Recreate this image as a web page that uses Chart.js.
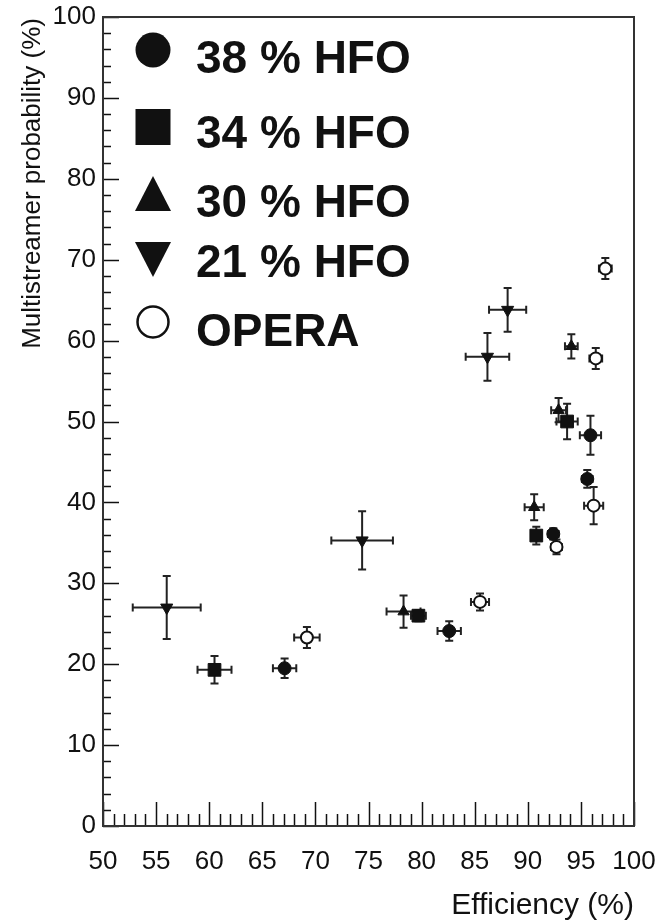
<!DOCTYPE html>
<html>
<head>
<meta charset="utf-8">
<script src="https://cdn.jsdelivr.net/npm/chart.js@4/dist/chart.umd.min.js"></script>
<style>
  html, body { margin: 0; padding: 0; background: #fff; }
  #wrap { width: 662px; height: 923px; }
</style>
</head>
<body>
<div id="wrap"><canvas id="c" width="662" height="923"></canvas></div>
<script>
// Multistreamer probability versus efficiency, with x/y error bars

const hfo38X  = [67.1, 82.6, 92.4, 95.6, 95.9];
const hfo38Y  = [19.5, 24.1, 36.1, 42.9, 48.3];
const hfo38Ex = [1.1, 1.1, 0.5, 0.5, 1.0];
const hfo38Ey = [1.2, 1.2, 0.7, 1.1, 2.4];

const hfo34X  = [60.5, 79.7, 90.8, 93.7];
const hfo34Y  = [19.3, 26.0, 35.9, 50.0];
const hfo34Ex = [1.6, 0.7, 0.5, 1.0];
const hfo34Ey = [1.7, 0.7, 1.1, 2.2];

const hfo30X  = [78.3, 90.6, 92.9, 94.1];
const hfo30Y  = [26.5, 39.4, 51.4, 59.3];
const hfo30Ex = [1.6, 0.9, 0.7, 0.6];
const hfo30Ey = [2.0, 1.6, 1.5, 1.5];

const hfo21X  = [56.0, 74.4, 86.2, 88.1];
const hfo21Y  = [27.0, 35.3, 58.0, 63.8];
const hfo21Ex = [3.2, 2.9, 2.05, 1.75];
const hfo21Ey = [3.9, 3.6, 2.95, 2.7];

const operaX  = [69.2, 85.5, 92.7, 96.2, 96.4, 97.3];
const operaY  = [23.3, 27.7, 34.5, 39.6, 57.8, 68.9];
const operaEx = [1.2, 0.85, 0.5, 0.9, 0.6, 0.6];
const operaEy = [1.3, 1.05, 0.9, 2.3, 1.3, 1.3];

const seriesLabels = ['38 % HFO', '34 % HFO', '30 % HFO', '21 % HFO', 'OPERA'];
const xTickLabels = [50, 55, 60, 65, 70, 75, 80, 85, 90, 95, 100];
const yTickLabels = [0, 10, 20, 30, 40, 50, 60, 70, 80, 90, 100];
const xTitle = 'Efficiency (%)';
const yTitle = 'Multistreamer probability (%)';

function pts(xs, ys, exs, eys) {
  return xs.map((x, i) => ({ x: x, y: ys[i], ex: exs[i], ey: eys[i] }));
}

const INK = '#111';
const FONT = '"Liberation Sans", Arial, Helvetica, sans-serif';

const datasets = [
  { label: seriesLabels[0], data: pts(hfo38X, hfo38Y, hfo38Ex, hfo38Ey),
    pointStyle: 'circle', pointRadius: 6.5, backgroundColor: INK, borderColor: INK, borderWidth: 1 },
  { label: seriesLabels[1], data: pts(hfo34X, hfo34Y, hfo34Ex, hfo34Ey),
    pointStyle: 'rect', pointRadius: 9, backgroundColor: INK, borderColor: INK, borderWidth: 1 },
  { label: seriesLabels[2], data: pts(hfo30X, hfo30Y, hfo30Ex, hfo30Ey),
    pointStyle: 'triangle', pointRadius: 6.5, backgroundColor: INK, borderColor: INK, borderWidth: 1 },
  { label: seriesLabels[3], data: pts(hfo21X, hfo21Y, hfo21Ex, hfo21Ey),
    pointStyle: 'triangle', rotation: 180, pointRadius: 7, backgroundColor: INK, borderColor: INK, borderWidth: 1 },
  { label: seriesLabels[4], data: pts(operaX, operaY, operaEx, operaEy),
    pointStyle: 'circle', pointRadius: 6, backgroundColor: '#fff', borderColor: INK, borderWidth: 2 }
];

// Error bars, frame, tick marks, titles and legend
const rootStyle = {
  id: 'rootStyle',
  beforeDatasetsDraw(chart) {
    const ctx = chart.ctx, xs = chart.scales.x, ys = chart.scales.y;
    ctx.save();
    ctx.strokeStyle = '#222';
    ctx.lineWidth = 2;
    const cap = 4;
    chart.data.datasets.forEach(ds => {
      ds.data.forEach(p => {
        const cx = xs.getPixelForValue(p.x), cy = ys.getPixelForValue(p.y);
        const x0 = xs.getPixelForValue(p.x - p.ex), x1 = xs.getPixelForValue(p.x + p.ex);
        const y0 = ys.getPixelForValue(p.y - p.ey), y1 = ys.getPixelForValue(p.y + p.ey);
        ctx.beginPath();
        ctx.moveTo(x0, cy); ctx.lineTo(x1, cy);
        ctx.moveTo(x0, cy - cap); ctx.lineTo(x0, cy + cap);
        ctx.moveTo(x1, cy - cap); ctx.lineTo(x1, cy + cap);
        ctx.moveTo(cx, y0); ctx.lineTo(cx, y1);
        ctx.moveTo(cx - cap, y0); ctx.lineTo(cx + cap, y0);
        ctx.moveTo(cx - cap, y1); ctx.lineTo(cx + cap, y1);
        ctx.stroke();
      });
    });
    ctx.restore();
  },
  afterDraw(chart) {
    const ctx = chart.ctx, xs = chart.scales.x, ys = chart.scales.y;
    const a = chart.chartArea;
    ctx.save();
    // tick marks
    ctx.strokeStyle = INK;
    ctx.lineWidth = 1.5;
    ctx.beginPath();
    for (let v = xs.min; v <= xs.max; v += 1) {
      const px = Math.round(xs.getPixelForValue(v)) + 0.5;
      const len = (v % 5 === 0) ? 24 : 12;
      ctx.moveTo(px, a.bottom); ctx.lineTo(px, a.bottom - len);
    }
    for (let v = ys.min; v <= ys.max; v += 2) {
      const py = Math.round(ys.getPixelForValue(v)) + 0.5;
      const len = (v % 10 === 0) ? 16 : 8;
      ctx.moveTo(a.left, py); ctx.lineTo(a.left + len, py);
    }
    ctx.stroke();
    // frame
    ctx.strokeStyle = '#333';
    ctx.lineWidth = 2;
    ctx.strokeRect(a.left, a.top, a.right - a.left, a.bottom - a.top);

    // axis titles
    ctx.fillStyle = INK;
    ctx.font = '30px ' + FONT;
    ctx.textAlign = 'right';
    ctx.textBaseline = 'alphabetic';
    ctx.fillText(xTitle, a.right, 914);
    ctx.save();
    ctx.font = '26px ' + FONT;
    ctx.translate(40, a.top + 1);
    ctx.rotate(-Math.PI / 2);
    ctx.textAlign = 'right';
    ctx.fillText(yTitle, 0, 0);
    ctx.restore();

    // legend
    const mx = 153, tx = 196;
    const rows = [
      { my: 50, by: 73 }, { my: 127, by: 148 }, { my: 195, by: 217 },
      { my: 258, by: 277 }, { my: 322, by: 346 }
    ];
    ctx.fillStyle = INK;
    ctx.strokeStyle = INK;
    // filled circle
    ctx.beginPath(); ctx.arc(mx, rows[0].my, 17.5, 0, Math.PI * 2); ctx.fill();
    // filled square
    ctx.fillRect(mx - 17.5, rows[1].my - 18, 35, 36);
    // up triangle
    ctx.beginPath();
    ctx.moveTo(mx, rows[2].my - 19); ctx.lineTo(mx + 18, rows[2].my + 16); ctx.lineTo(mx - 18, rows[2].my + 16);
    ctx.closePath(); ctx.fill();
    // down triangle
    ctx.beginPath();
    ctx.moveTo(mx - 18, rows[3].my - 16); ctx.lineTo(mx + 18, rows[3].my - 16); ctx.lineTo(mx, rows[3].my + 19);
    ctx.closePath(); ctx.fill();
    // open circle
    ctx.lineWidth = 2.5;
    ctx.beginPath(); ctx.arc(mx, rows[4].my, 15.5, 0, Math.PI * 2); ctx.stroke();

    ctx.font = 'bold 46px ' + FONT;
    ctx.textAlign = 'left';
    chart.data.datasets.forEach((ds, i) => ctx.fillText(ds.label, tx, rows[i].by));
    ctx.restore();
  }
};

new Chart(document.getElementById('c'), {
  type: 'scatter',
  data: { datasets: datasets },
  options: {
    responsive: false,
    animation: false,
    devicePixelRatio: 1,
    layout: { padding: { top: 17, right: 28, left: 0, bottom: 0 } },
    plugins: { legend: { display: false }, tooltip: { enabled: false } },
    scales: {
      x: {
        type: 'linear', min: 50, max: 100,
        afterBuildTicks(s) { s.ticks = xTickLabels.map(v => ({ value: v })); },
        afterFit(s) { s.height = 97; s.paddingLeft = 0; s.paddingRight = 0; },
        grid: { display: false, drawTicks: false },
        border: { display: false },
        ticks: { color: INK, font: { family: FONT, size: 26 }, padding: 20, maxRotation: 0, autoSkip: false }
      },
      y: {
        type: 'linear', min: 0, max: 100,
        afterBuildTicks(s) { s.ticks = yTickLabels.map(v => ({ value: v })); },
        afterFit(s) { s.width = 103; s.paddingTop = 0; s.paddingBottom = 0; },
        grid: { display: false, drawTicks: false },
        border: { display: false },
        ticks: { color: INK, font: { family: FONT, size: 26 }, padding: 7, autoSkip: false }
      }
    }
  },
  plugins: [rootStyle]
});
</script>
</body>
</html>
